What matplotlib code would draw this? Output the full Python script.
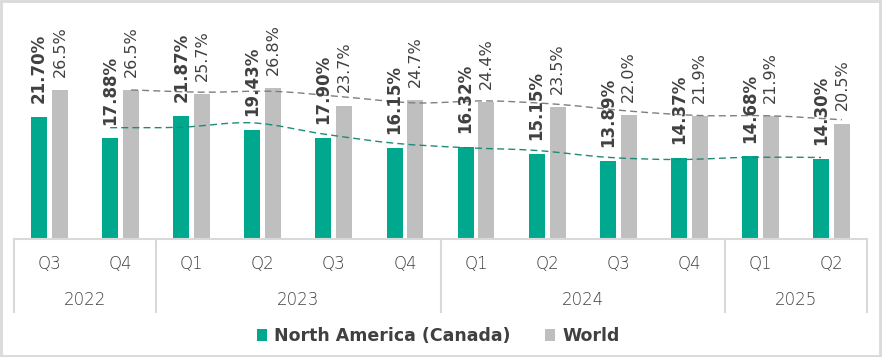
import numpy as np
import pandas as pd
import matplotlib
matplotlib.use('Agg')
import matplotlib.pyplot as plt
from matplotlib.path import Path
from matplotlib.patches import PathPatch, Patch, Rectangle
import matplotlib.transforms as mtransforms


quarters = ['Q3', 'Q4', 'Q1', 'Q2', 'Q3', 'Q4', 'Q1', 'Q2', 'Q3', 'Q4', 'Q1', 'Q2']
years = ['2022', '2023', '2024', '2025']
year_counts = [2, 4, 4, 2]
canada = [21.70, 17.88, 21.87, 19.43, 17.90, 16.15, 16.32, 15.15, 13.89, 14.37, 14.68, 14.30]
world = [26.5, 26.5, 25.7, 26.8, 23.7, 24.7, 24.4, 23.5, 22.0, 21.9, 21.9, 20.5]
series_names = ['North America (Canada)', 'World']

GREEN = '#00a88e'
GREY = '#bfbfbf'
TEXT = '#404040'
LINE = '#d9d9d9'

plt.rcParams['font.family'] = ['DejaVu Sans']


def smooth_path(x, y):
    """Excel-like smoothed line through the points (bezier segments)."""
    pts = np.column_stack([x, y])
    n = len(pts)
    verts = [pts[0]]
    codes = [Path.MOVETO]
    for i in range(n - 1):
        p0 = pts[i - 1] if i > 0 else pts[i]
        p1 = pts[i]
        p2 = pts[i + 1]
        p3 = pts[i + 2] if i + 2 < n else pts[i + 1]
        verts += [p1 + (p2 - p0) / 6.0, p2 - (p3 - p1) / 6.0, p2]
        codes += [Path.CURVE4] * 3
    return Path(verts, codes)


fig = plt.figure(figsize=(8.82, 3.57), dpi=100, facecolor='white')
ax = fig.add_axes([14 / 882, 118 / 357, 853 / 882, 225 / 357])

x = np.arange(len(quarters))
off = 0.147
w = 0.225

ax.bar(x - off, canada, width=w, color=GREEN, zorder=2)
ax.bar(x + off, world, width=w, color=GREY, zorder=2)

for xi, v in zip(x, canada):
    ax.annotate(f'{v:.2f}%', (xi - off, v), xytext=(0, 10),
                textcoords='offset points', rotation=90, ha='center',
                va='bottom', fontsize=12, fontweight='bold', color=TEXT,
                zorder=4)
for xi, v in zip(x, world):
    ax.annotate(f'{v:.1f}%', (xi + off, v), xytext=(0, 9.5),
                textcoords='offset points', rotation=90, ha='center',
                va='bottom', fontsize=11.5, color=TEXT, zorder=4)

# 2 period moving average trendlines
ma_canada = pd.Series(canada).rolling(2).mean().to_numpy()[1:]
ma_world = pd.Series(world).rolling(2).mean().to_numpy()[1:]
ax.add_patch(PathPatch(smooth_path(x[1:] - off, ma_canada), fill=False,
                       edgecolor='#218a77', lw=1.0, linestyle=(0, (5, 3)),
                       zorder=3))
ax.add_patch(PathPatch(smooth_path(x[1:] + off, ma_world), fill=False,
                       edgecolor='#7f7f7f', lw=1.0, linestyle=(0, (5, 3)),
                       zorder=3))

ax.set_xlim(-0.5, len(quarters) - 0.5)
ax.set_ylim(0, 40)
for s in ['top', 'right', 'left']:
    ax.spines[s].set_visible(False)
ax.spines['bottom'].set_color(LINE)
ax.spines['bottom'].set_linewidth(1.5)
ax.set_yticks([])
ax.set_xticks([])

# multi level category axis
trans = mtransforms.blended_transform_factory(ax.transData, ax.transAxes)
for xi, q in zip(x, quarters):
    ax.text(xi, -25 / 225, q, transform=trans, ha='center', va='center',
            fontsize=12, color=TEXT, fontweight='light')
start = 0
bounds = [-0.5]
for yr, c in zip(years, year_counts):
    ax.text(start + (c - 1) / 2, -61 / 225, yr, transform=trans, ha='center',
            va='center', fontsize=12, color=TEXT, fontweight='light')
    start += c
    bounds.append(start - 0.5)
for b in bounds:
    ax.plot([b, b], [0, -73 / 225], transform=trans, color=LINE, lw=1.5,
            clip_on=False)

handles = [Patch(facecolor=GREEN, edgecolor='none'),
           Patch(facecolor=GREY, edgecolor='none')]
leg = fig.legend(handles, series_names, loc='center', ncol=2,
                 bbox_to_anchor=(0.497, 0.058), frameon=False,
                 prop={'size': 12.5, 'weight': 'bold'},
                 handlelength=0.58, handleheight=0.7, handletextpad=0.4,
                 columnspacing=2.0)
for t in leg.get_texts():
    t.set_color(TEXT)

fig.patches.append(Rectangle((0.001, 0.002), 0.997, 0.995, transform=fig.transFigure,
                             fill=False, edgecolor=LINE, lw=2))

fig.savefig('out.png', dpi=100)
